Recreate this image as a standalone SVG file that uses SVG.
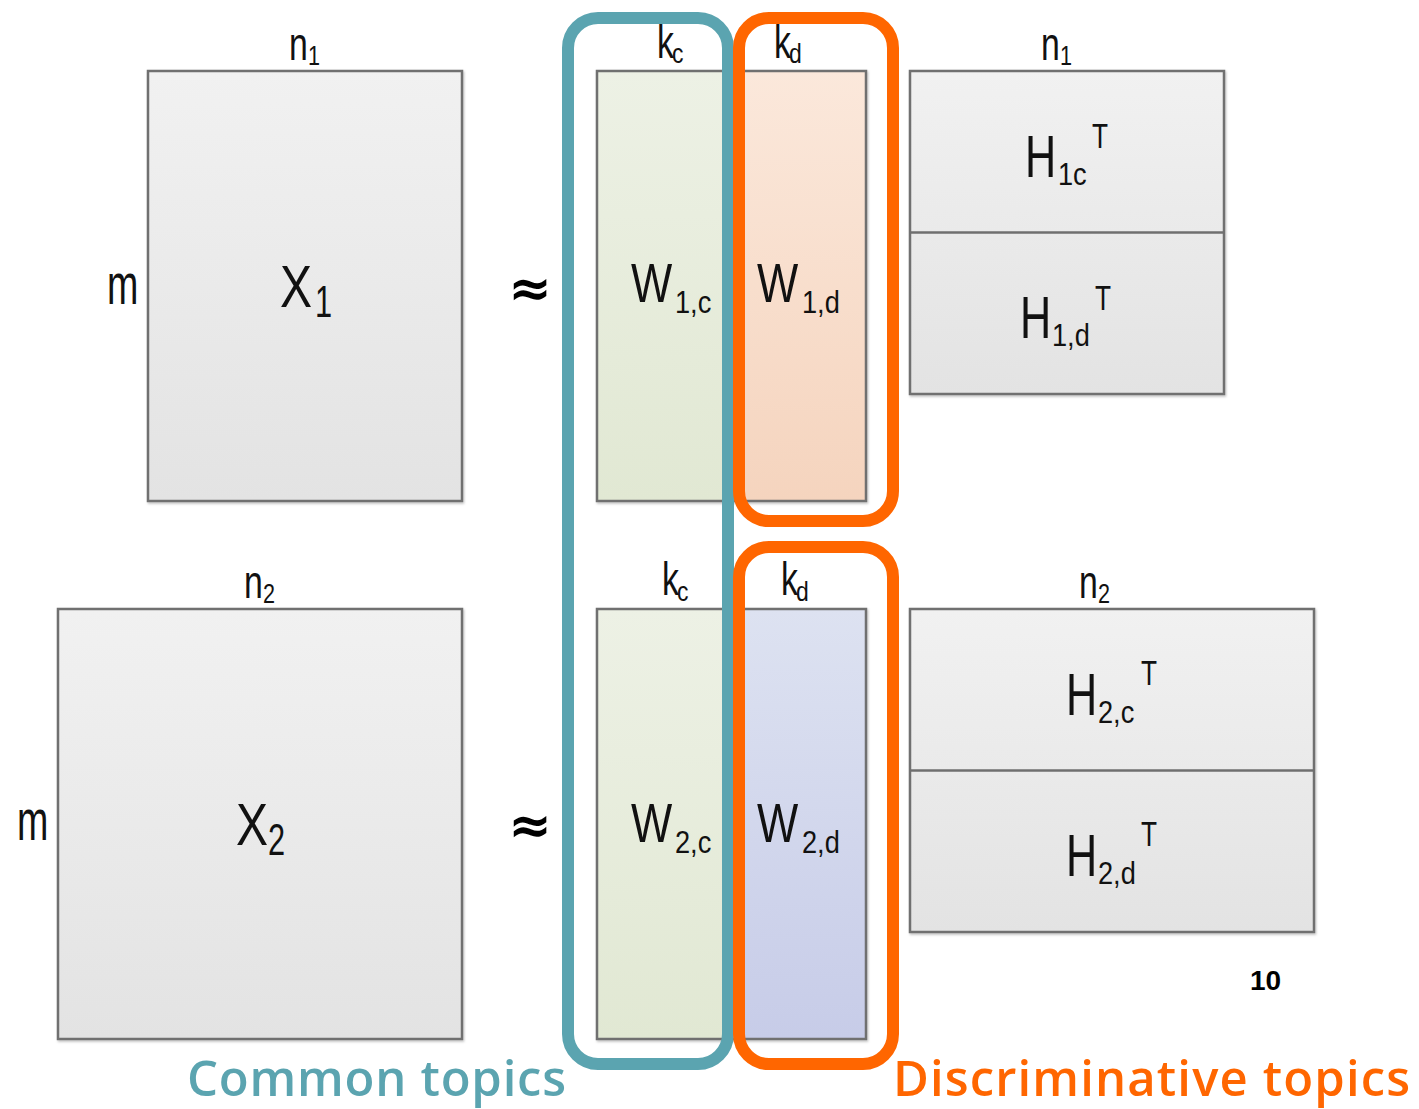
<svg xmlns="http://www.w3.org/2000/svg" width="1419" height="1109" viewBox="0 0 1419 1109">
  <defs>
    <linearGradient id="gGray" x1="0" y1="0" x2="0" y2="1">
      <stop offset="0" stop-color="#f1f1f1"/>
      <stop offset="1" stop-color="#e3e3e3"/>
    </linearGradient>
    <linearGradient id="gGreen" x1="0" y1="0" x2="0" y2="1">
      <stop offset="0" stop-color="#edf1e5"/>
      <stop offset="1" stop-color="#e1e8d3"/>
    </linearGradient>
    <linearGradient id="gPeach" x1="0" y1="0" x2="0" y2="1">
      <stop offset="0" stop-color="#fbe8db"/>
      <stop offset="1" stop-color="#f5d4be"/>
    </linearGradient>
    <linearGradient id="gLav" x1="0" y1="0" x2="0" y2="1">
      <stop offset="0" stop-color="#dde2f1"/>
      <stop offset="1" stop-color="#c7cce8"/>
    </linearGradient>
    <filter id="shadow" x="-5%" y="-5%" width="110%" height="110%">
      <feDropShadow dx="1" dy="1.5" stdDeviation="1" flood-color="#000" flood-opacity="0.25"/>
    </filter>
  </defs>
  <style>
    .box { stroke: #6f6f6f; stroke-width: 2.5; filter: url(#shadow); }
    .lbl { font-family: "Liberation Sans", Arial, sans-serif; fill: #111; }
    .big { font-size: 60px; }
    .w { font-size: 56px; }
    .sub { font-size: 32px; }
    .sup { font-size: 35px; }
    .dim { font-size: 47px; }
    .dsub { font-size: 27px; }
    .approx { font-family: "DejaVu Sans", sans-serif; font-weight: bold; font-size: 52px; fill: #000; }
    .group-c { fill: none; stroke: #5ba4b0; stroke-width: 12; }
    .group-d { fill: none; stroke: #ff6600; stroke-width: 12; }
    .caption { font-family: "Open Sans", "Noto Sans", sans-serif; font-weight: 600; font-size: 49px; }
    .page { font-family: "Liberation Sans", Arial, sans-serif; font-weight: bold; font-size: 28px; fill: #000; }
  </style>

  <!-- first dataset: X1 ≈ [W1,c W1,d] [H1c; H1,d]^T -->
  <g id="X1">
    <rect class="box" x="148" y="71" width="314" height="430" fill="url(#gGray)"/>
    <text class="lbl big" transform="translate(280,307) scale(0.8,1)">X</text>
    <text class="lbl" font-size="44" transform="translate(315,317) scale(0.7,1)">1</text>
    <text class="lbl dim" transform="translate(289,60) scale(0.72,1)">n</text>
    <text class="lbl dsub" transform="translate(308,65) scale(0.8,1)">1</text>
    <text class="lbl" font-size="57" transform="translate(107,304) scale(0.66,1)">m</text>
  </g>
  <g id="approx1">
    <text class="approx" x="530" y="306" text-anchor="middle">≈</text>
  </g>
  <g id="W1c">
    <rect class="box" x="597" y="71" width="130" height="430" fill="url(#gGreen)"/>
    <text class="lbl w" transform="translate(631,302) scale(0.78,1)">W</text>
    <text class="lbl sub" transform="translate(675,313) scale(0.85,1)">1,c</text>
    <text class="lbl dim" transform="translate(657,58) scale(0.72,1)">k</text>
    <text class="lbl dsub" transform="translate(672,63) scale(0.85,1)">c</text>
  </g>
  <g id="W1d">
    <rect class="box" x="727" y="71" width="139" height="430" fill="url(#gPeach)"/>
    <text class="lbl w" transform="translate(757,302) scale(0.78,1)">W</text>
    <text class="lbl sub" transform="translate(802,313) scale(0.85,1)">1,d</text>
    <text class="lbl dim" transform="translate(774,58) scale(0.72,1)">k</text>
    <text class="lbl dsub" transform="translate(789,63) scale(0.85,1)">d</text>
  </g>
  <g id="H1">
    <rect class="box" x="910" y="71" width="314" height="323" fill="url(#gGray)"/>
    <line x1="910" y1="232.5" x2="1224" y2="232.5" stroke="#6f6f6f" stroke-width="2.5"/>
    <text class="lbl dim" transform="translate(1041,60) scale(0.72,1)">n</text>
    <text class="lbl dsub" transform="translate(1060,65) scale(0.8,1)">1</text>
  </g>
  <g id="H1c">
    <text class="lbl big" transform="translate(1025,177) scale(0.72,1)">H</text>
    <text class="lbl sub" transform="translate(1058,185) scale(0.85,1)">1c</text>
    <text class="lbl sup" transform="translate(1092,148) scale(0.75,1)">T</text>
  </g>
  <g id="H1d">
    <text class="lbl big" transform="translate(1020,338) scale(0.72,1)">H</text>
    <text class="lbl sub" transform="translate(1052,346) scale(0.85,1)">1,d</text>
    <text class="lbl sup" transform="translate(1095,310) scale(0.75,1)">T</text>
  </g>

  <!-- second dataset: X2 ≈ [W2,c W2,d] [H2,c; H2,d]^T -->
  <g id="X2">
    <rect class="box" x="58" y="609" width="404" height="430" fill="url(#gGray)"/>
    <text class="lbl big" transform="translate(236,845) scale(0.8,1)">X</text>
    <text class="lbl" font-size="44" transform="translate(268,855) scale(0.7,1)">2</text>
    <text class="lbl dim" transform="translate(244,598) scale(0.72,1)">n</text>
    <text class="lbl dsub" transform="translate(263,603) scale(0.8,1)">2</text>
    <text class="lbl" font-size="57" transform="translate(17,840) scale(0.66,1)">m</text>
  </g>
  <g id="approx2">
    <text class="approx" x="530" y="843" text-anchor="middle">≈</text>
  </g>
  <g id="W2c">
    <rect class="box" x="597" y="609" width="130" height="430" fill="url(#gGreen)"/>
    <text class="lbl w" transform="translate(631,842) scale(0.78,1)">W</text>
    <text class="lbl sub" transform="translate(675,853) scale(0.85,1)">2,c</text>
    <text class="lbl dim" transform="translate(662,595) scale(0.72,1)">k</text>
    <text class="lbl dsub" transform="translate(677,601) scale(0.85,1)">c</text>
  </g>
  <g id="W2d">
    <rect class="box" x="727" y="609" width="139" height="430" fill="url(#gLav)"/>
    <text class="lbl w" transform="translate(757,842) scale(0.78,1)">W</text>
    <text class="lbl sub" transform="translate(802,853) scale(0.85,1)">2,d</text>
    <text class="lbl dim" transform="translate(781,595) scale(0.72,1)">k</text>
    <text class="lbl dsub" transform="translate(796,601) scale(0.85,1)">d</text>
  </g>
  <g id="H2">
    <rect class="box" x="910" y="609" width="404" height="323" fill="url(#gGray)"/>
    <line x1="910" y1="770.5" x2="1314" y2="770.5" stroke="#6f6f6f" stroke-width="2.5"/>
    <text class="lbl dim" transform="translate(1079,598) scale(0.72,1)">n</text>
    <text class="lbl dsub" transform="translate(1098,603) scale(0.8,1)">2</text>
  </g>
  <g id="H2c">
    <text class="lbl big" transform="translate(1066,715) scale(0.72,1)">H</text>
    <text class="lbl sub" transform="translate(1098,723) scale(0.85,1)">2,c</text>
    <text class="lbl sup" transform="translate(1141,685) scale(0.75,1)">T</text>
  </g>
  <g id="H2d">
    <text class="lbl big" transform="translate(1066,876) scale(0.72,1)">H</text>
    <text class="lbl sub" transform="translate(1098,884) scale(0.85,1)">2,d</text>
    <text class="lbl sup" transform="translate(1141,846) scale(0.75,1)">T</text>
  </g>

  <!-- topic groupings -->
  <g id="common-topics">
    <rect class="group-c" x="568" y="18" width="160" height="1046" rx="30"/>
    <text class="caption" x="187" y="1096" fill="#5ba4b0" textLength="379" lengthAdjust="spacing">Common topics</text>
  </g>
  <g id="discriminative-topics">
    <rect class="group-d" x="739" y="18" width="154" height="503" rx="30"/>
    <rect class="group-d" x="739" y="547" width="154" height="517" rx="30"/>
    <text class="caption" x="893" y="1096" fill="#ff6600" textLength="517" lengthAdjust="spacing">Discriminative topics</text>
  </g>

  <g id="page-number">
    <text class="page" x="1250" y="990">10</text>
  </g>
</svg>
